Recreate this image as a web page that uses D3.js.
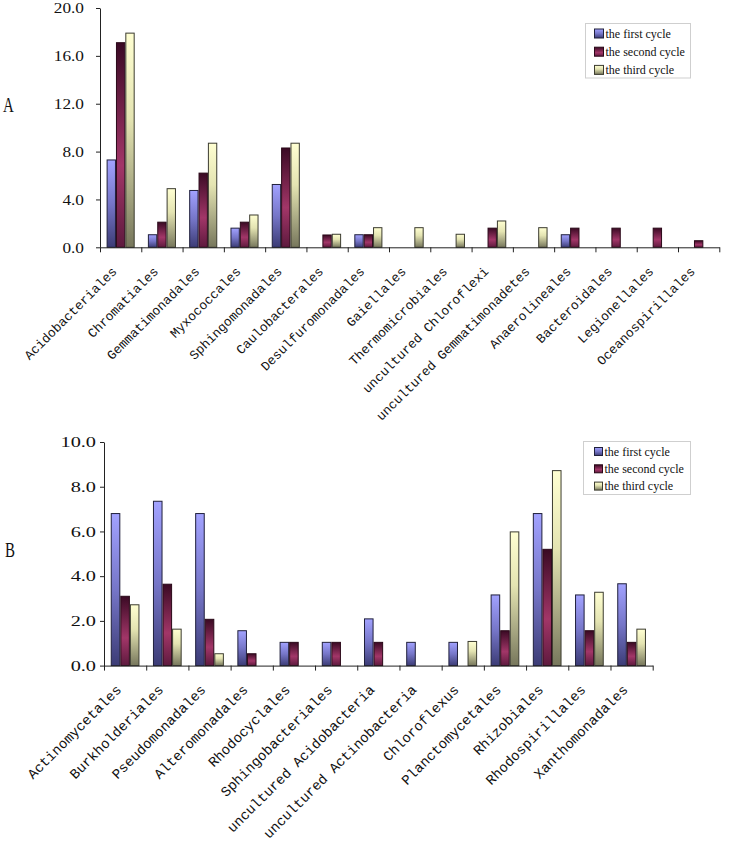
<!DOCTYPE html>
<html>
<head>
<meta charset="utf-8">
<script src="https://cdn.jsdelivr.net/npm/d3@7"></script>
<style>
  html, body { margin: 0; padding: 0; background: #fff; }
  svg { display: block; }
</style>
</head>
<body>
<svg id="chart" width="729" height="843"></svg>
<script>
// ---------------- DATA ----------------
const seriesNames = ["the first cycle", "the second cycle", "the third cycle"];

const categoriesA = ["Acidobacteriales", "Chromatiales", "Gemmatimonadales", "Myxococcales",
  "Sphingomonadales", "Caulobacterales", "Desulfuromonadales", "Gaiellales", "Thermomicrobiales",
  "uncultured Chloroflexi", "uncultured Gemmatimonadetes", "Anaerolineales", "Bacteroidales",
  "Legionellales", "Oceanospirillales"];
const firstA  = [7.3, 1.05, 4.75, 1.6, 5.25, 0, 1.05, 0, 0, 0, 0, 1.05, 0, 0, 0];
const secondA = [17.1, 2.1, 6.2, 2.1, 8.3, 1.03, 1.05, 0, 0, 1.6, 0, 1.6, 1.6, 1.6, 0.55];
const thirdA  = [17.9, 4.9, 8.7, 2.7, 8.7, 1.09, 1.64, 1.64, 1.09, 2.2, 1.64, 0, 0, 0, 0];
const yTicksA = [0, 4, 8, 12, 16, 20];

const categoriesB = ["Actinomycetales", "Burkholderiales", "Pseudomonadales", "Alteromonadales",
  "Rhodocyclales", "Sphingobacteriales", "uncultured Acidobacteria", "uncultured Actinobacteria",
  "Chloroflexus", "Planctomycetales", "Rhizobiales", "Rhodospirillales", "Xanthomonadales"];
const firstB  = [6.8, 7.35, 6.8, 1.56, 1.04, 1.04, 2.09, 1.04, 1.04, 3.16, 6.8, 3.16, 3.66];
const secondB = [3.1, 3.64, 2.07, 0.53, 1.04, 1.04, 1.04, 0, 0, 1.56, 5.2, 1.56, 1.04];
const thirdB  = [2.72, 1.63, 0.53, 0, 0, 0, 0, 0, 1.08, 5.98, 8.72, 3.28, 1.63];
const yTicksB = [0, 2, 4, 6, 8, 10];

// ---------------- DRAW ----------------
const svg = d3.select("#chart");
svg.append("rect").attr("width", 729).attr("height", 843).attr("fill", "#fff");

const defs = svg.append("defs");
const gradStops = [
  [[0, "#a2a2ff"], [0.5, "#7676c8"], [1, "#3c3c76"]],
  [[0, "#3a0a24"], [0.6, "#a23668"], [1, "#5e1a3e"]],
  [[0, "#ffffd2"], [0.4, "#e4e4b2"], [1, "#77775c"]]
];
gradStops.forEach((st, i) => {
  const g = defs.append("linearGradient").attr("id", "g" + i)
    .attr("x1", 0).attr("y1", 0).attr("x2", 0).attr("y2", 1);
  st.forEach(s => g.append("stop").attr("offset", s[0]).attr("stop-color", s[1]));
});
const strokeCols = ["#20203c", "#2a0818", "#3c3c30"];

function drawChart(cfg) {
  const g = svg.append("g");
  const n = cfg.categories.length;
  const x0 = d3.scaleBand().domain(cfg.categories).range([cfg.left, cfg.right]).padding(0);
  const bw = x0.bandwidth();
  const x1 = d3.scaleBand().domain(seriesNames).range([bw * 0.16, bw * 0.84]).padding(0);
  const y = d3.scaleLinear().domain([0, cfg.max]).range([cfg.bottom, cfg.top]);

  const data = cfg.categories.map((c, i) => ({
    cat: c,
    vals: cfg.series.map((s, j) => ({ name: seriesNames[j], j: j, v: s[i] }))
  }));

  const groups = g.selectAll("g.grp").data(data).join("g")
    .attr("transform", d => `translate(${x0(d.cat)},0)`);
  groups.selectAll("rect").data(d => d.vals.filter(v => v.v > 0)).join("rect")
    .attr("x", d => x1(d.name) + 0.5)
    .attr("y", d => y(d.v))
    .attr("width", x1.bandwidth() - 1)
    .attr("height", d => y(0) - y(d.v))
    .attr("fill", d => `url(#g${d.j})`)
    .attr("stroke", d => strokeCols[d.j])
    .attr("stroke-width", 1);

  // Y axis
  const ya = g.append("g").attr("transform", `translate(${cfg.left},0)`)
    .call(d3.axisLeft(y).tickValues(cfg.yTicks).tickSize(4).tickSizeOuter(0).tickFormat(""));
  ya.selectAll("path, line").attr("stroke", "#222");
  g.selectAll("text.ytl").data(cfg.yTicks).join("text")
    .attr("class", "ytl")
    .attr("transform", d => `translate(${cfg.labelRight},${y(d)}) scale(${cfg.tickScaleX},1)`)
    .attr("text-anchor", "end")
    .attr("dy", "0.36em")
    .style("font-family", "'Liberation Serif', 'Times New Roman', serif")
    .style("font-size", cfg.tickFont + "px")
    .attr("fill", "#111")
    .text(d3.format(".1f"));

  // X axis: ticks at category boundaries
  const xb = d3.scaleLinear().domain([0, n]).range([cfg.left, cfg.right]);
  const xa = g.append("g").attr("transform", `translate(0,${cfg.bottom})`)
    .call(d3.axisBottom(xb).tickValues(d3.range(0, n + 1)).tickSize(5).tickSizeOuter(0).tickFormat(""));
  xa.selectAll("path, line").attr("stroke", "#222");

  // category labels
  g.selectAll("text.xl").data(cfg.categories).join("text")
    .attr("class", "xl")
    .attr("transform", d => `translate(${x0(d) + bw / 2 - 3},${cfg.bottom + cfg.labelDrop}) rotate(-45)`)
    .attr("text-anchor", "end")
    .style("font-family", "'Liberation Mono', 'Courier New', monospace")
    .style("font-size", cfg.catFont + "px")
    .attr("fill", "#111")
    .text(d => d);

  // panel letter
  g.append("text")
    .attr("transform", `translate(${cfg.letterX},${cfg.letterY}) scale(0.68,1)`)
    .style("font-family", "'Liberation Serif', 'Times New Roman', serif")
    .style("font-size", "22px")
    .attr("fill", "#111")
    .text(cfg.letter);

  // legend
  const L = cfg.legend;
  const lg = g.append("g").attr("transform", `translate(${L.x},${L.y})`);
  lg.append("rect").attr("x", 0).attr("y", 0).attr("width", L.w).attr("height", L.h)
    .attr("fill", "#fff").attr("stroke", "#cfcfcf").attr("stroke-width", 1);
  const rows = lg.selectAll("g.row").data(seriesNames).join("g")
    .attr("transform", (d, i) => `translate(0,${L.rowY0 + i * L.rowGap})`);
  rows.append("rect").attr("x", L.sx).attr("y", -L.ss / 2).attr("width", L.ss).attr("height", L.ss)
    .attr("fill", (d, i) => `url(#g${i})`).attr("stroke", (d, i) => strokeCols[i]).attr("stroke-width", 1);
  rows.append("text").attr("x", L.tx).attr("dy", "0.35em")
    .style("font-family", "'Liberation Serif', 'Times New Roman', serif")
    .style("font-size", "12px")
    .attr("fill", "#111")
    .text(d => d);
}

drawChart({
  categories: categoriesA, series: [firstA, secondA, thirdA], yTicks: yTicksA, max: 20,
  left: 100, right: 719.3, top: 8, bottom: 247.3,
  labelRight: 84, tickFont: 15, tickScaleX: 1.15,
  catFont: 13, labelDrop: 25,
  letter: "A", letterX: 3, letterY: 112,
  legend: { x: 585.5, y: 23.5, w: 105, h: 54.5, rowY0: 10, rowGap: 18.2, sx: 9, ss: 9, tx: 20 }
});

drawChart({
  categories: categoriesB, series: [firstB, secondB, thirdB], yTicks: yTicksB, max: 10,
  left: 104, right: 652.7, top: 442, bottom: 665.6,
  labelRight: 96, tickFont: 14.5, tickScaleX: 1.4,
  catFont: 14, labelDrop: 25,
  letter: "B", letterX: 5, letterY: 557,
  legend: { x: 583.5, y: 441.5, w: 107, h: 53, rowY0: 10, rowGap: 17.3, sx: 11, ss: 8, tx: 21 }
});
</script>
</body>
</html>
